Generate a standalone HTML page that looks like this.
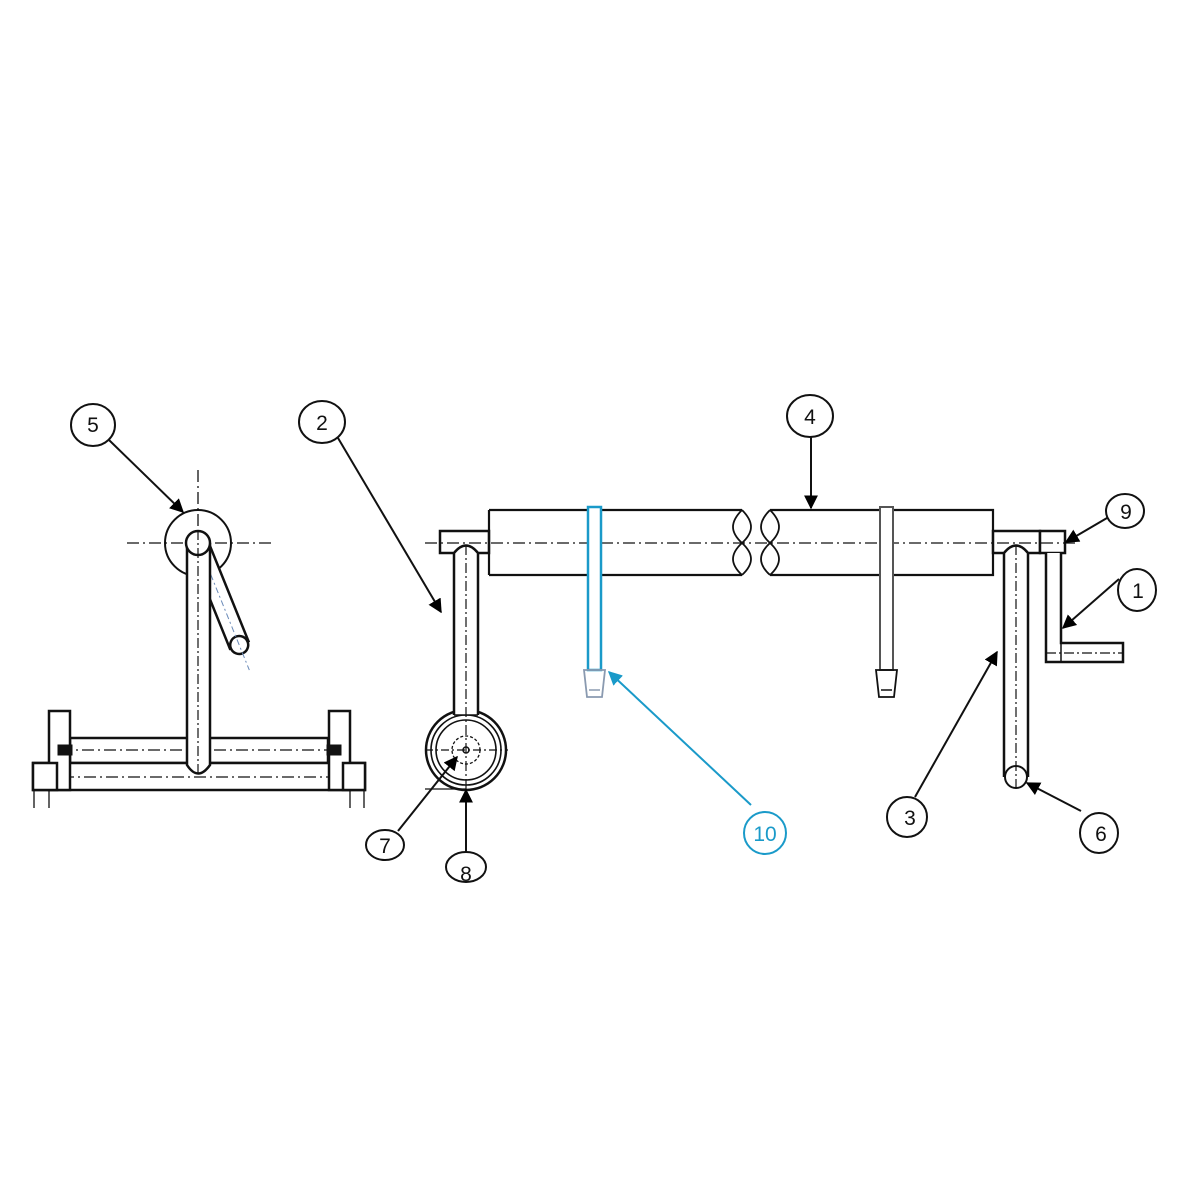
<!DOCTYPE html>
<html><head><meta charset="utf-8"><style>
html,body{margin:0;padding:0;background:#fff;}
svg{display:block;}
text{font-family:"Liberation Sans","DejaVu Sans",sans-serif;font-size:21px;text-anchor:middle;}
</style></head><body>
<svg width="1200" height="1200" viewBox="0 0 1200 1200" xmlns="http://www.w3.org/2000/svg">
<defs>
<marker id="ah" viewBox="0 0 10 10" refX="9" refY="5" markerWidth="7" markerHeight="7" orient="auto"><path d="M0,0 L10,5 L0,10 z" fill="#000"/></marker>
<marker id="ahb" viewBox="0 0 10 10" refX="9" refY="5" markerWidth="7" markerHeight="7" orient="auto"><path d="M0,0 L10,5 L0,10 z" fill="#1a9ac9"/></marker>
</defs>
<g fill="none" stroke="#111" stroke-width="2.5">
<!-- LEFT VIEW -->
<circle cx="198" cy="543" r="33" stroke-width="2"/>
<line x1="127" y1="543" x2="272" y2="543" stroke-width="1.3" stroke-dasharray="12,4,2,4"/>
<line x1="198" y1="470" x2="198" y2="790" stroke-width="1.3" stroke-dasharray="12,4,2,4"/>
<!-- crank arm -->
<g transform="rotate(-22 198 543)">
<rect x="188" y="543" width="20" height="110" fill="#fff"/>
<circle cx="198" cy="653" r="9" fill="#fff"/>
<line x1="198" y1="535" x2="198" y2="680" stroke-width="1" stroke="#6a8ab8" stroke-dasharray="6,3,2,3"/>
</g>
<!-- base -->
<rect x="70" y="738" width="258" height="25" fill="#fff"/>
<rect x="33" y="763" width="332" height="27" fill="#fff"/>
<line x1="60" y1="750" x2="335" y2="750" stroke-width="1.3" stroke-dasharray="12,4,2,4"/>
<line x1="40" y1="777" x2="360" y2="777" stroke-width="1.3" stroke-dasharray="12,4,2,4"/>
<rect x="49" y="711" width="21" height="79" fill="#fff"/>
<rect x="329" y="711" width="21" height="79" fill="#fff"/>
<rect x="33" y="763" width="24" height="27" fill="#fff"/>
<rect x="343" y="763" width="22" height="27" fill="#fff"/>
<rect x="58" y="745" width="14" height="10" fill="#111" stroke-width="1"/>
<rect x="327" y="745" width="14" height="10" fill="#111" stroke-width="1"/>
<line x1="34" y1="790" x2="34" y2="808" stroke-width="1.3"/>
<line x1="49" y1="790" x2="49" y2="808" stroke-width="1.3"/>
<line x1="350" y1="790" x2="350" y2="808" stroke-width="1.3"/>
<line x1="364" y1="790" x2="364" y2="808" stroke-width="1.3"/>
<!-- upright shaft -->
<path d="M187,543 L187,765 Q198,782 210,765 L210,543" fill="#fff"/>
<circle cx="198" cy="543" r="12" fill="#fff"/>
<line x1="198" y1="530" x2="198" y2="775" stroke-width="1.2" stroke-dasharray="10,3,2,3"/>

<!-- MAIN VIEW -->
<rect x="440" y="531" width="49" height="22" fill="#fff"/>
<path d="M489,510 L742,510 M489,575 L742,575 M489,510 L489,575" stroke-width="2.2"/>
<path d="M742,510 C730,522 730,532 742,543 C754,554 754,564 742,575" stroke-width="1.8"/>
<path d="M742,510 C754,522 754,532 742,543 C730,554 730,564 742,575" stroke-width="1.8"/>
<path d="M770,510 C758,522 758,532 770,543 C782,554 782,564 770,575" stroke-width="1.8"/>
<path d="M770,510 C782,522 782,532 770,543 C758,554 758,564 770,575" stroke-width="1.8"/>
<path d="M770,510 L993,510 L993,575 L770,575" stroke-width="2.2"/>
<rect x="993" y="531" width="47" height="22" fill="#fff"/>
<rect x="1040" y="531" width="25" height="22" fill="#fff"/>
<line x1="425" y1="543" x2="1075" y2="543" stroke-width="1.3" stroke-dasharray="12,4,2,4"/>
<!-- left arm + wheel -->
<circle cx="466" cy="750" r="40"/>
<circle cx="466" cy="750" r="35" stroke-width="1.6"/>
<circle cx="466" cy="750" r="30" stroke-width="1.6"/>
<circle cx="466" cy="750" r="14" stroke-width="1.3" stroke-dasharray="3,2"/>
<circle cx="466" cy="750" r="3" stroke-width="1.5"/>
<line x1="425" y1="750" x2="508" y2="750" stroke-width="1.2" stroke-dasharray="8,3,2,3"/>
<line x1="425" y1="789" x2="466" y2="789" stroke-width="1.3"/>
<path d="M454,715 L454,553 Q466,538 478,553 L478,715" fill="#fff"/>
<line x1="454" y1="715" x2="478" y2="715" stroke-width="1.5"/>
<line x1="466" y1="545" x2="466" y2="800" stroke-width="1.2" stroke-dasharray="10,3,2,3"/>
<!-- blue bar -->
<g stroke="#1a9ac9">
<rect x="588" y="507" width="13" height="163" fill="#fff"/>
<path d="M584,670 L605,670 L602,697 L587,697 Z" stroke="#8a9ab0" stroke-width="1.8"/>
<line x1="589" y1="690" x2="600" y2="690" stroke="#8a9ab0" stroke-width="1.5"/>
</g>
<!-- gray bar -->
<rect x="880" y="507" width="13" height="163" fill="#fff" stroke="#555" stroke-width="2"/>
<path d="M876,670 L897,670 L894,697 L879,697 Z" stroke-width="1.8"/>
<line x1="881" y1="690" x2="892" y2="690" stroke-width="1.5"/>
<!-- right arm -->
<path d="M1004,777 L1004,553 Q1016,538 1028,553 L1028,777" fill="#fff"/>
<circle cx="1016" cy="777" r="11" fill="#fff" stroke-width="2"/>
<line x1="1016" y1="545" x2="1016" y2="788" stroke-width="1.2" stroke-dasharray="10,3,2,3"/>
<!-- crank -->
<path d="M1046,553 L1046,662 L1123,662 L1123,643 L1061,643 L1061,553" fill="#fff"/>
<line x1="1061" y1="643" x2="1061" y2="662" stroke-width="1.5"/>
<line x1="1046" y1="653" x2="1123" y2="653" stroke-width="1.2" stroke-dasharray="10,3,2,3"/>

<!-- LABELS -->
<g stroke-width="2">
<ellipse cx="93" cy="425" rx="22" ry="21" fill="#fff"/>
<ellipse cx="322" cy="422" rx="23" ry="21" fill="#fff"/>
<ellipse cx="810" cy="416" rx="23" ry="21" fill="#fff"/>
<ellipse cx="1125" cy="511" rx="19" ry="17" fill="#fff"/>
<ellipse cx="1137" cy="590" rx="19" ry="21" fill="#fff"/>
<ellipse cx="765" cy="833" rx="21" ry="21" fill="#fff" stroke="#1a9ac9"/>
<ellipse cx="907" cy="817" rx="20" ry="20" fill="#fff"/>
<ellipse cx="1099" cy="833" rx="19" ry="20" fill="#fff"/>
<ellipse cx="385" cy="845" rx="19" ry="15" fill="#fff"/>
<ellipse cx="466" cy="867" rx="20" ry="15" fill="#fff"/>
</g>
<g stroke-width="2" marker-end="url(#ah)">
<line x1="109" y1="440" x2="183" y2="512"/>
<line x1="338" y1="438" x2="441" y2="612"/>
<line x1="811" y1="437" x2="811" y2="508"/>
<line x1="1107" y1="518" x2="1066" y2="542"/>
<line x1="1119" y1="579" x2="1063" y2="628"/>
<line x1="915" y1="797" x2="997" y2="652"/>
<line x1="1081" y1="811" x2="1027" y2="783"/>
<line x1="398" y1="831" x2="457" y2="757"/>
<line x1="466" y1="852" x2="466" y2="790"/>
</g>
<line x1="751" y1="805" x2="609" y2="672" stroke="#1a9ac9" stroke-width="2" marker-end="url(#ahb)"/>
</g>
<g fill="#111">
<text x="93" y="432">5</text>
<text x="322" y="430">2</text>
<text x="810" y="424">4</text>
<text x="1126" y="519">9</text>
<text x="1138" y="598">1</text>
<text x="765" y="841" fill="#1a9ac9">10</text>
<text x="910" y="825">3</text>
<text x="1101" y="841">6</text>
<text x="385" y="853">7</text>
<text x="466" y="881">8</text>
</g>
</svg>
</body></html>
